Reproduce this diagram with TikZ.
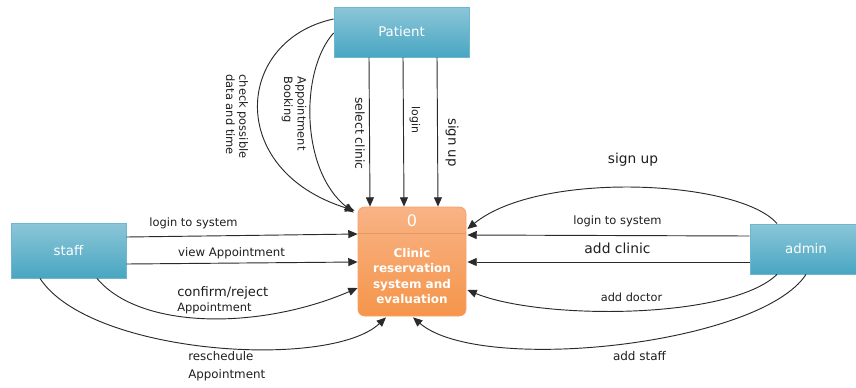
\documentclass[tikz,border=0pt]{standalone}
\usepackage{fontspec}
\setmainfont{DejaVu Sans}
\usetikzlibrary{arrows.meta,calc}

\definecolor{entTop}{HTML}{8CC6D8}
\definecolor{entBot}{HTML}{48A6C2}
\definecolor{entLine}{HTML}{6DB8CF}
\definecolor{procTop}{HTML}{F8B386}
\definecolor{procBot}{HTML}{F5954A}
\definecolor{procLine}{HTML}{F4A46A}
\definecolor{procSep}{HTML}{E88E50}
\definecolor{ink}{HTML}{1E1E1E}
\definecolor{flowcol}{HTML}{2A2A2A}

\begin{document}
\begin{tikzpicture}[x=0.75pt,y=-0.75pt,
  entity/.style={rectangle, draw=entLine, line width=0.6pt,
    top color=entTop, bottom color=entBot, text=white,
    font=\fontsize{10}{12}\selectfont, inner sep=0pt},
  procbox/.style={rectangle, rounded corners=5pt, draw=procLine, line width=0.6pt,
    top color=procTop, bottom color=procBot, inner sep=0pt,
    minimum width=81pt, minimum height=81.75pt},
  flow/.style={draw=flowcol, line width=0.7pt, -{Triangle[length=7pt,width=6pt]}},
  lbl/.style={text=ink, font=\fontsize{8.6}{10}\selectfont, inner sep=0pt},
  vlbl/.style={lbl, rotate=-90, align=left}
]
\useasboundingbox (0,0) rectangle (856,387);

% external entities and the process
\node[entity, minimum width=101.25pt, minimum height=37.5pt] (patient) at (401.5,32) {Patient};
\node[entity, minimum width=86.25pt, minimum height=41.25pt] (staff) at (68.5,250.5) {staff};
\node[entity, minimum width=84pt, minimum height=37.5pt] (admin) at (806,249) {admin};
\node[procbox] (process) at (412,261.5) {};
\draw[procSep, opacity=0.7, line width=0.7pt]
  ($(process.north west)+(0.5,26.5)$) coordinate (hdl) -- ($(process.north east)+(-0.5,26.5)$) coordinate (hdr);
\node[text=white, font=\fontsize{12}{14}\selectfont, inner sep=0pt] (pnum) at (412,221) {0};
\node[text=white, font=\fontsize{9}{11.5}\selectfont\bfseries, align=center, inner sep=0pt]
  (ptext) at (412,276) {Clinic\\reservation\\system and\\evaluation};

% Patient flows
\draw[flow] ($(patient.west)+(0,-13)$) .. controls (235,40) and (225,170) .. ($(process.north west)+(-3,4)$);
\draw[flow] ($(patient.west)+(0,1)$) .. controls (300,70) and (300,170) .. ($(process.north west)+(-4,6)$);
\draw[flow] ($(patient.south)+(-32.5,0)$) -- ($(process.north)+(-42,0)$);
\draw[flow] ($(patient.south)+(1.5,0)$) -- ($(process.north)+(-8,0)$);
\draw[flow] ($(patient.south)+(35.5,0)$) -- ($(process.north)+(26,0)$);

\node[vlbl] (lcheck) at (237,116.5) {check possible\\data and time};
\node[vlbl] (lbook) at (294,113.5) {Appointment\\Booking};
\node[vlbl, font=\fontsize{9.3}{11}\selectfont] (lselect) at (360,133.5) {select clinic};
\node[vlbl, font=\fontsize{8.2}{10}\selectfont] (llogin) at (415,120) {login};
\node[vlbl, font=\fontsize{10}{12}\selectfont] (lsignp) at (452,142.5) {sign up};

% staff flows
\draw[flow] ($(staff.east)+(0,-13.5)$) -- ($(process.west)+(0,-27.5)$);
\draw[flow] ($(staff.east)+(0,13.5)$) -- ($(process.west)+(0,0.5)$);
\draw[flow] ($(staff.south)+(28.5,0)$) .. controls (140,330) and (260,330) .. ($(process.west)+(0,26.5)$);
\draw[flow] ($(staff.south)+(-28.5,0)$) .. controls (90,355) and (330,370) .. ($(process.south)+(-26,1)$);

\node[lbl] (lslogin) at (193.5,223) {login to system};
\node[lbl, font=\fontsize{8.8}{10}\selectfont] (lview) at (231.5,253) {view Appointment};
\node[lbl, align=left, anchor=west] (lconfirm) at (177,300.5)
  {{\fontsize{9.8}{11}\selectfont confirm/reject}\\[1pt]{\fontsize{8.6}{10}\selectfont Appointment}};
\node[lbl, align=left, anchor=west, font=\fontsize{8.9}{13.5}\selectfont] (lresched) at (188,366)
  {reschedule\\Appointment};

% admin flows
\draw[flow] ($(admin.north)+(-29,0)$) .. controls (740,180) and (540,170) .. ($(process.east)+(1,-32.5)$);
\draw[flow] ($(admin.west)+(0,-13)$) -- ($(process.east)+(1,-26.5)$);
\draw[flow] ($(admin.west)+(0,13)$) -- ($(process.east)+(1,0.5)$);
\draw[flow] ($(admin.south)+(-29,0)$) .. controls (730,320) and (540,320) .. ($(process.east)+(1,28.5)$);
\draw[flow] (admin.south) .. controls (760,345) and (480,375) .. ($(process.south)+(1,1)$);

\node[lbl, font=\fontsize{10.3}{12}\selectfont] (lasign) at (633,160) {sign up};
\node[lbl] (lalogin) at (617.5,221.5) {login to system};
\node[lbl, font=\fontsize{10.4}{12}\selectfont] (laclinic) at (617.5,248.5) {add clinic};
\node[lbl, font=\fontsize{8.5}{10}\selectfont] (ladoctor) at (631.5,297) {add doctor};
\node[lbl, font=\fontsize{9}{10}\selectfont] (lastaff) at (639.5,356) {add staff};
\end{tikzpicture}
\end{document}
